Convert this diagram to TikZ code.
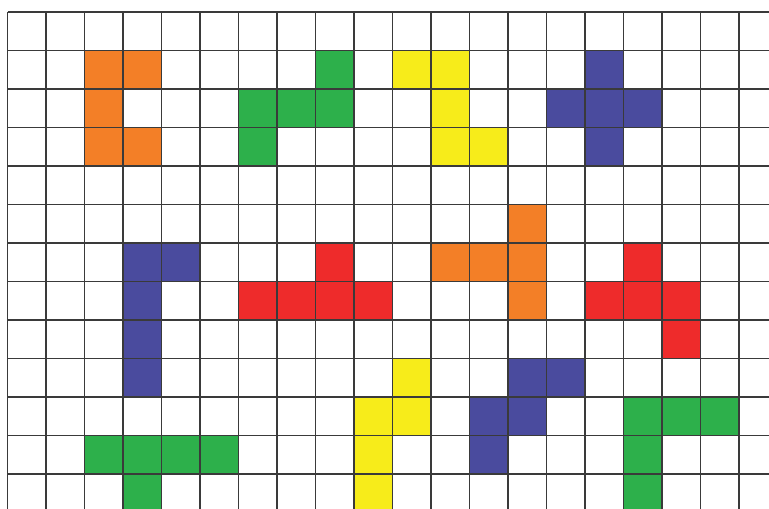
\documentclass[tikz,border=0pt]{standalone}
\usepackage{tikz}
\definecolor{PieceOrange}{HTML}{F37F27}
\definecolor{PieceGreen}{HTML}{2DB04B}
\definecolor{PieceYellow}{HTML}{F7EC1A}
\definecolor{PieceBlue}{HTML}{4A4B9E}
\definecolor{PieceRed}{HTML}{EE2B2B}
\definecolor{GridLine}{HTML}{3A3A3A}
\tikzset{
  cellfill/.style={fill=#1},
  gridlines/.style={draw=GridLine, line width=1.1pt}
}

\begin{document}
\begin{tikzpicture}[x=1cm, y=-1cm]
  \useasboundingbox (-0.195,-0.31) rectangle (19.78,12.91);
  \clip (-0.195,-0.31) rectangle (19.78,12.91);
  \foreach \c/\r in {2/1,3/1,2/2,2/3,3/3, 13/5,11/6,12/6,13/6,13/7}
    \fill[cellfill=PieceOrange] (\c,\r) rectangle ++(1,1);
  \foreach \c/\r in {8/1,6/2,7/2,8/2,6/3, 16/10,17/10,18/10,16/11,16/12, 2/11,3/11,4/11,5/11,3/12}
    \fill[cellfill=PieceGreen] (\c,\r) rectangle ++(1,1);
  \foreach \c/\r in {10/1,11/1,11/2,11/3,12/3, 10/9,9/10,10/10,9/11,9/12}
    \fill[cellfill=PieceYellow] (\c,\r) rectangle ++(1,1);
  \foreach \c/\r in {15/1,14/2,15/2,16/2,15/3, 3/6,4/6,3/7,3/8,3/9, 13/9,14/9,12/10,13/10,12/11}
    \fill[cellfill=PieceBlue] (\c,\r) rectangle ++(1,1);
  \foreach \c/\r in {8/6,6/7,7/7,8/7,9/7, 16/6,15/7,16/7,17/7,17/8}
    \fill[cellfill=PieceRed] (\c,\r) rectangle ++(1,1);
  \draw[gridlines] (0,0) grid (21,14);
\end{tikzpicture}
\end{document}
